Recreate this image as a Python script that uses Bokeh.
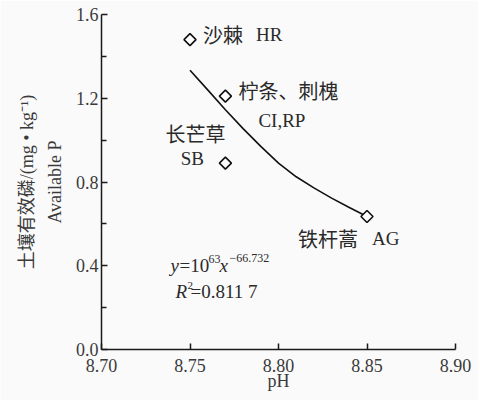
from bokeh.plotting import figure
from bokeh.models import Range1d, FixedTicker, Label, ColumnDataSource
from bokeh.embed import file_html
from bokeh.resources import INLINE

# ---- data ----
ph = [8.75, 8.77, 8.77, 8.85]
avail_p = [1.48, 1.21, 0.89, 0.635]
names_cn = ["沙棘", "柠条、刺槐", "长芒草", "铁杆蒿"]
names_en = ["HR", "CI,RP", "SB", "AG"]

fit_ph = [8.75, 8.76, 8.77, 8.78, 8.79, 8.80, 8.81, 8.82, 8.83, 8.84, 8.85]
fit_p = [1.334, 1.24, 1.145, 1.055, 0.97, 0.89, 0.825, 0.772, 0.723, 0.678, 0.635]

x_ticks = [8.70, 8.75, 8.80, 8.85, 8.90]
x_tick_labels = ["8.70", "8.75", "8.80", "8.85", "8.90"]
y_ticks = [0.0, 0.4, 0.8, 1.2, 1.6]
y_minor = [0.2, 0.6, 1.0, 1.4]
y_tick_labels = ["0.0", "0.4", "0.8", "1.2", "1.6"]

SERIF = "Liberation Serif"
CJK = "Noto Sans CJK SC"
MIX = "'Liberation Serif', 'Noto Sans CJK SC'"
TXT = "#2a2a2a"
BG = "#fafafa"

p = figure(width=478, height=400, output_backend="svg", toolbar_location=None,
           x_range=Range1d(8.70, 8.90), y_range=Range1d(0.0, 1.6),
           min_border_left=101, min_border_right=23, min_border_top=14, min_border_bottom=51)
p.background_fill_color = BG
p.border_fill_color = BG
p.outline_line_color = None
p.grid.visible = False

# axes
p.xaxis.ticker = FixedTicker(ticks=x_ticks)
p.xaxis.major_label_overrides = {t: l for t, l in zip(x_ticks, x_tick_labels)}
p.yaxis.ticker = FixedTicker(ticks=y_ticks, minor_ticks=y_minor)
p.yaxis.major_label_overrides = {t: l for t, l in zip(y_ticks, y_tick_labels)}

for ax in (p.xaxis[0], p.yaxis[0]):
    ax.axis_line_color = "#1a1a1a"
    ax.axis_line_width = 1.5
    ax.major_tick_line_color = "#1a1a1a"
    ax.major_tick_line_width = 1.5
    ax.major_tick_in = 6
    ax.major_tick_out = 0
    ax.minor_tick_line_color = "#1a1a1a"
    ax.minor_tick_line_width = 1.5
    ax.minor_tick_in = 5
    ax.minor_tick_out = 0
    ax.major_label_text_font = SERIF
    ax.major_label_text_font_size = "18px"
    ax.major_label_text_color = "#3a3a3a"
    ax.axis_label_text_font = MIX
    ax.axis_label_text_font_style = "normal"
    ax.axis_label_text_font_size = "18px"
    ax.axis_label_text_color = "#3a3a3a"

p.xaxis.minor_tick_line_color = None
p.xaxis.major_label_standoff = 9
p.xaxis.axis_label = "pH"
p.xaxis.axis_label_standoff = -4
p.yaxis.major_label_standoff = 3
p.yaxis.axis_label = "土壤有效磷/(mg • kg⁻¹)\nAvailable P"
p.yaxis.axis_label_standoff = 8
p.yaxis.axis_label_text_line_height = 1.4

# fitted curve and points
p.line(fit_ph, fit_p, line_color="#111111", line_width=1.6)
src = ColumnDataSource(dict(x=ph, y=avail_p))
p.scatter("x", "y", source=src, marker="square", angle=0.785398, size=8.5,
          fill_color="white", line_color="#111111", line_width=1.6)

# point labels: (index, text, font, size, dx, dy, align)
label_specs = [
    (0, names_cn[0], CJK, "20px", 13, 5, "left"),
    (0, names_en[0], SERIF, "19px", 66, 5, "left"),
    (1, names_cn[1], CJK, "20px", 13, 6, "left"),
    (1, names_en[1], SERIF, "19px", 33, -24, "left"),
    (2, names_cn[2], CJK, "20px", -30, 30, "center"),
    (2, names_en[2], SERIF, "19px", -33, 5, "center"),
    (3, names_cn[3], CJK, "20px", -69, -22, "left"),
    (3, names_en[3], SERIF, "19px", 5, -22, "left"),
]
for i, t, f, fs, dx, dy, al in label_specs:
    p.add_layout(Label(x=ph[i], y=avail_p[i], x_offset=dx, y_offset=dy, text=t,
                       text_font=f, text_font_size=fs, text_color=TXT,
                       text_align=al, text_baseline="middle"))

# equation annotation
eq_x, eq_y = 8.739, 0.40
eq_parts = [
    ("y", "italic", "19px", 0, 0),
    ("=10", "normal", "19px", 9, 0),
    ("63", "normal", "12px", 38, 7),
    ("x", "italic", "19px", 49, 0),
    ("−66.732", "normal", "12px", 59, 8),
]
for t, st, fs, dx, dy in eq_parts:
    p.add_layout(Label(x=eq_x, y=eq_y, x_offset=dx, y_offset=dy, text=t,
                       text_font=SERIF, text_font_style=st, text_font_size=fs,
                       text_color=TXT, text_align="left", text_baseline="middle"))
r2_parts = [
    ("R", "italic", "19px", 5, -26),
    ("2", "normal", "11px", 17, -20),
    ("=0.811 7", "normal", "19px", 20, -26),
]
for t, st, fs, dx, dy in r2_parts:
    p.add_layout(Label(x=eq_x, y=eq_y, x_offset=dx, y_offset=dy, text=t,
                       text_font=SERIF, text_font_style=st, text_font_size=fs,
                       text_color=TXT, text_align="left", text_baseline="middle"))

open("out.html", "w").write(file_html(p, INLINE))
